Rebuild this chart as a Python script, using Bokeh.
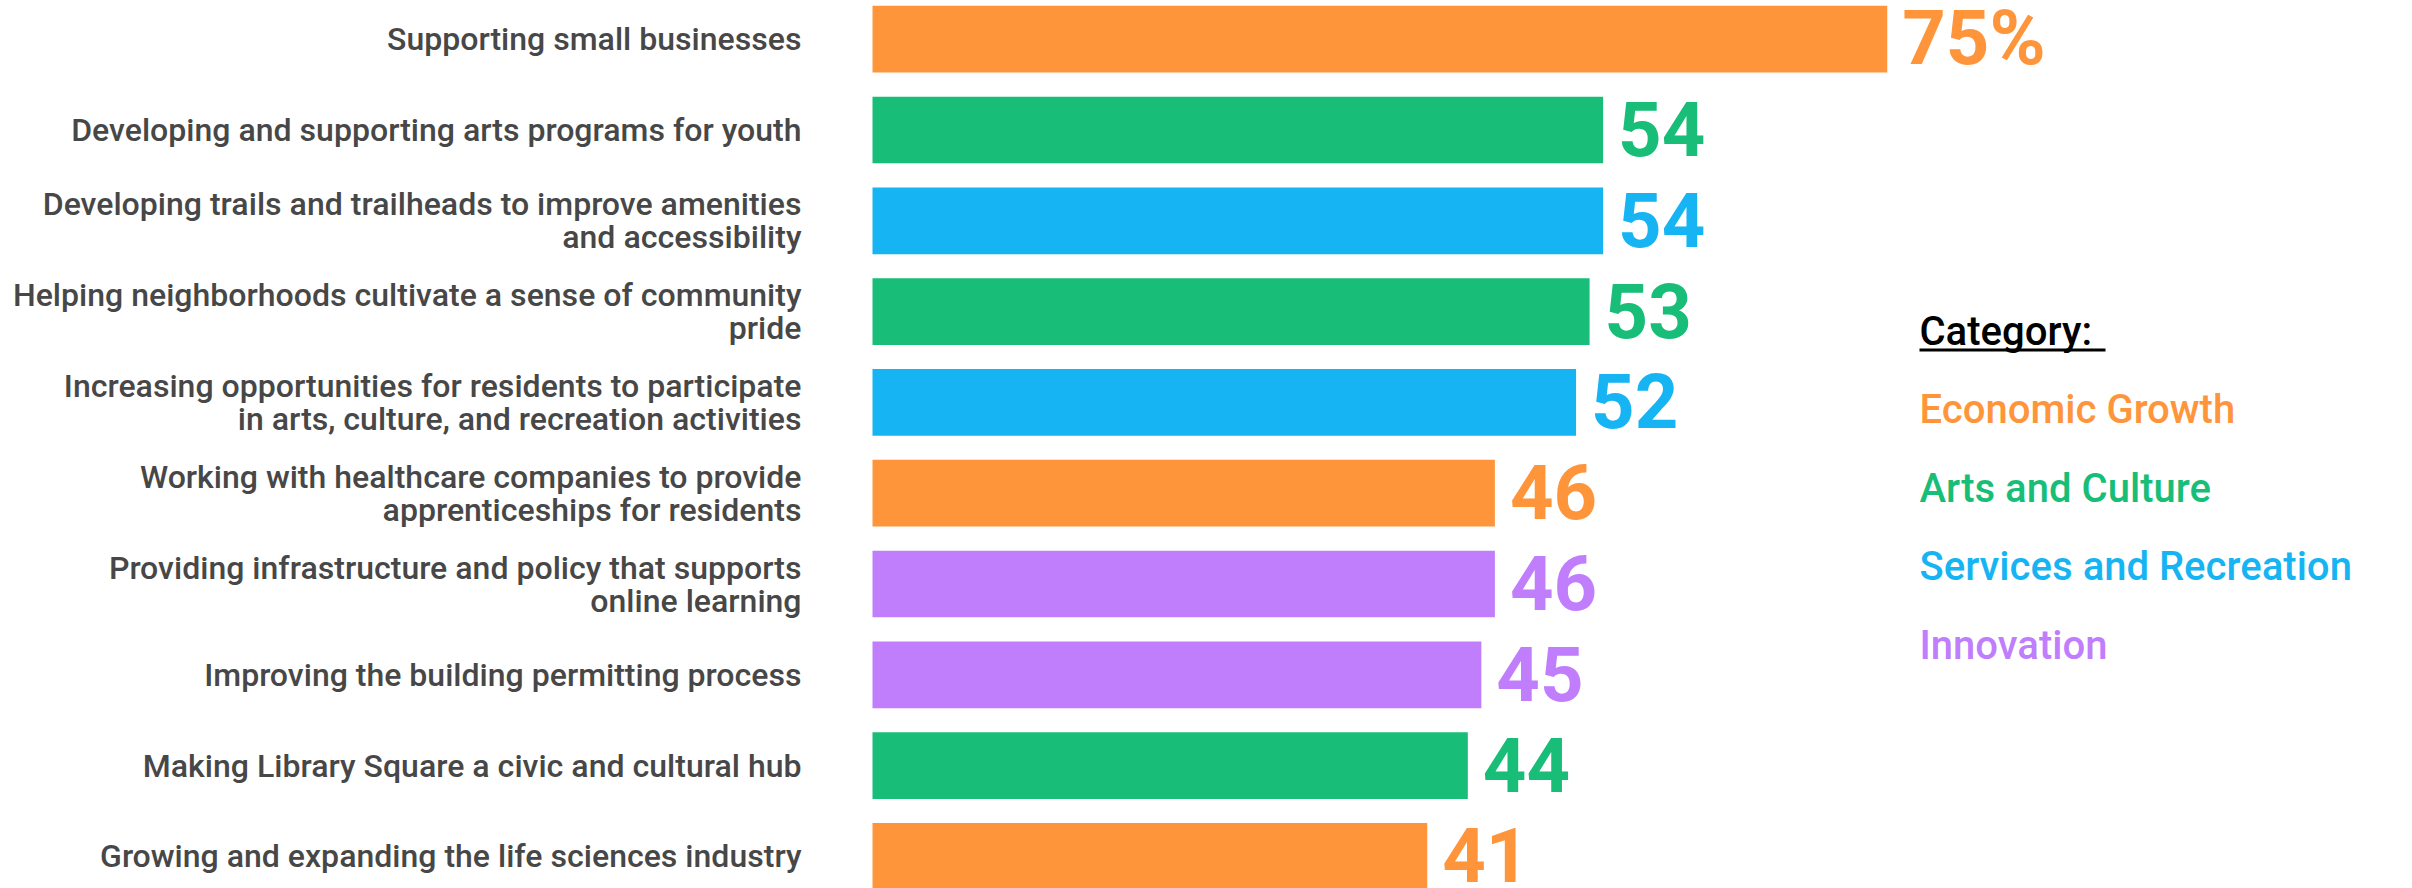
from bokeh.plotting import figure
from bokeh.models import Range1d, ColumnDataSource, Label, BoxAnnotation
from bokeh.core.properties import value
from bokeh.embed import file_html
from bokeh.resources import INLINE

# ---- data ----
labels = [
    ["Supporting small businesses"],
    ["Developing and supporting arts programs for youth"],
    ["Developing trails and trailheads to improve amenities", "and accessibility"],
    ["Helping neighborhoods cultivate a sense of community", "pride"],
    ["Increasing opportunities for residents to participate", "in arts, culture, and recreation activities"],
    ["Working with healthcare companies to provide", "apprenticeships for residents"],
    ["Providing infrastructure and policy that supports", "online learning"],
    ["Improving the building permitting process"],
    ["Making Library Square a civic and cultural hub"],
    ["Growing and expanding the life sciences industry"],
]
values = [75, 54, 54, 53, 52, 46, 46, 45, 44, 41]
categories = ["Economic Growth", "Arts and Culture", "Services and Recreation",
              "Arts and Culture", "Services and Recreation", "Economic Growth",
              "Innovation", "Innovation", "Arts and Culture", "Economic Growth"]
legend_items = ["Economic Growth", "Arts and Culture", "Services and Recreation", "Innovation"]
palette = {"Economic Growth": "#FF953B", "Arts and Culture": "#18BE77",
           "Services and Recreation": "#16B4F3", "Innovation": "#C07EFD"}

n = len(values)
ys = [n - 1 - i for i in range(n)]
colors = [palette[c] for c in categories]
vtext = [f"{v}%" if i == 0 else f"{v}" for i, v in enumerate(values)]

W, H = 2412, 888
px_per_unit = 13.53
x0_px = 872
pitch = 90.8
top_c = 38.7
FONT_MED = "'Roboto Medium', Roboto"

p = figure(width=W, height=H, output_backend="svg", toolbar_location=None,
           x_range=Range1d(-x0_px / px_per_unit, (W - x0_px) / px_per_unit),
           y_range=Range1d(-(H - (top_c + 9 * pitch)) / pitch, 9 + top_c / pitch),
           min_border=0)
p.axis.visible = False
p.grid.visible = False
p.outline_line_color = None
p.background_fill_color = "white"

src = ColumnDataSource(dict(y=ys, v=values, c=colors, t=vtext))
p.hbar(y="y", right="v", left=0, height=0.735, fill_color="c", line_color=None, source=src)
p.text(x="v", y="y", text="t", text_color="c", x_offset=15, y_offset=-1,
       text_font=value("Roboto"), text_font_style="bold", text_font_size="76px",
       text_baseline="middle", text_align="left", source=src)

# category labels
lx, ly, lt, loff = [], [], [], []
for i, lines in enumerate(labels):
    if len(lines) == 1:
        lx.append(0); ly.append(ys[i]); lt.append(lines[0]); loff.append(0)
    else:
        for k, line in enumerate(lines):
            lx.append(0); ly.append(ys[i]); lt.append(line); loff.append(-16.5 if k == 0 else 16.5)
lsrc = ColumnDataSource(dict(x=lx, y=ly, t=lt, o=loff))
p.text(x="x", y="y", text="t", y_offset="o", x_offset=-71,
       text_font=value(FONT_MED), text_font_size="32px",
       text_color="#474747", text_align="right", text_baseline="middle", source=lsrc)

# legend
leg_x = 1919
p.add_layout(Label(x=leg_x, y=H - 331, x_units="screen", y_units="screen", text="Category:",
                   text_font=FONT_MED, text_font_size="40px",
                   text_color="black", text_baseline="middle"))
p.add_layout(BoxAnnotation(left=leg_x, right=leg_x + 186, top=H - 348, bottom=H - 351,
                           left_units="screen", right_units="screen", top_units="screen",
                           bottom_units="screen", fill_color="black", fill_alpha=1, line_color=None))
leg_y = [409, 488, 566, 645]
for k, name in enumerate(legend_items):
    p.add_layout(Label(x=leg_x, y=H - leg_y[k], x_units="screen", y_units="screen", text=name,
                       text_font=FONT_MED, text_font_size="40px",
                       text_color=palette[name], text_baseline="middle"))

open("out.html", "w").write(file_html(p, INLINE))
